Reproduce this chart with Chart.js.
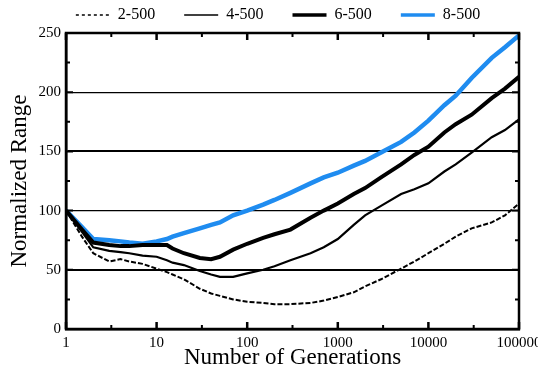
<!DOCTYPE html>
<html>
<head>
<meta charset="utf-8">
<script src="https://cdn.jsdelivr.net/npm/chart.js@4.4.1/dist/chart.umd.min.js"></script>
<style>
html,body{margin:0;padding:0;background:#fff;}
#wrap{width:538px;height:380px;}
</style>
</head>
<body>
<div id="wrap"><canvas id="c" width="538" height="380"></canvas></div>
<script>
const generations = [1, 1.5, 2, 3, 4, 5, 7, 10, 13, 15, 20, 30, 40, 50, 70, 100, 150, 200, 300, 500, 700, 1000, 1500, 2000, 3000, 5000, 7000, 10000, 15000, 20000, 30000, 50000, 70000, 100000];
const range2_500 = [100, 78, 64, 57, 59, 57, 55, 51, 48, 46, 42, 34, 30, 28, 25, 23, 22, 21, 21, 22, 24, 27, 31, 36, 42, 51, 57, 64, 72, 78, 85, 90, 96, 106];
const range4_500 = [100, 82, 69, 66, 65, 64, 62, 61, 58, 56, 54, 49, 46, 44, 44, 47, 50, 53, 58, 64, 69, 76, 88, 96, 104, 114, 118, 123, 133, 139, 149, 162, 168, 177];
const range6_500 = [100, 84, 73, 71, 70, 70, 71, 71, 71, 68, 64, 60, 59, 61, 67, 72, 77, 80, 84, 94, 100, 106, 114, 119, 128, 139, 147, 154, 166, 173, 181, 195, 203, 213];
const range8_500 = [100, 86, 76, 75, 74, 73, 72, 74, 76, 78, 81, 85, 88, 90, 96, 100, 105, 109, 115, 123, 128, 132, 138, 142, 149, 158, 166, 176, 189, 197, 212, 229, 238, 248];
const seriesLabels = ['2-500', '4-500', '6-500', '8-500'];
const xTickValues = [1, 3.1623, 10, 31.623, 100, 316.23, 1000, 3162.3, 10000, 31623, 100000];
const yTickStep = 25;

const SERIF = '"Liberation Serif", "Times New Roman", serif';
const BLUE = '#1f8cf0';
const legendWidths = [1.5, 1.5, 3.5, 3.5];

function pts(ys){ return generations.map((g,i)=>({x:g,y:ys[i]})); }

const frameTicks = {
  id:'frameTicks',
  afterDraw(chart){
    const {ctx, chartArea:a, scales:{x,y}} = chart;
    ctx.save();
    ctx.strokeStyle = '#000';
    ctx.lineWidth = 2.5;
    ctx.strokeRect(a.left, a.top, a.right-a.left, a.bottom-a.top);
    ctx.lineWidth = 2;
    for (let v = 0; v <= 250; v += yTickStep) {
      const py = y.getPixelForValue(v);
      const len = (v % 50 === 0) ? 7 : 4;
      ctx.beginPath();
      ctx.moveTo(a.left, py); ctx.lineTo(a.left+len, py);
      ctx.moveTo(a.right, py); ctx.lineTo(a.right-len, py);
      ctx.stroke();
    }
    xTickValues.forEach(v=>{
      const px = x.getPixelForValue(v);
      const major = Math.abs(Math.log10(v) - Math.round(Math.log10(v))) < 0.01;
      const len = major ? 7 : 4;
      ctx.lineWidth = major ? 2.5 : 2;
      ctx.beginPath();
      ctx.moveTo(px, a.bottom); ctx.lineTo(px, a.bottom-len);
      ctx.moveTo(px, a.top); ctx.lineTo(px, a.top+len);
      ctx.stroke();
    });
    ctx.restore();
  }
};

new Chart(document.getElementById('c'), {
  type:'line',
  data:{
    datasets:[
      {label:seriesLabels[0], data:pts(range2_500), borderColor:'#000', backgroundColor:'#000', borderWidth:2, borderDash:[5,2], pointRadius:0, tension:0},
      {label:seriesLabels[1], data:pts(range4_500), borderColor:'#000', backgroundColor:'#000', borderWidth:2.2, pointRadius:0, tension:0},
      {label:seriesLabels[2], data:pts(range6_500), borderColor:'#000', backgroundColor:'#000', borderWidth:4, pointRadius:0, tension:0},
      {label:seriesLabels[3], data:pts(range8_500), borderColor:BLUE, backgroundColor:BLUE, borderWidth:4.5, pointRadius:0, tension:0}
    ]
  },
  options:{
    responsive:false,
    animation:false,
    layout:{padding:{left:37,right:19,top:-22,bottom:0}},
    plugins:{
      legend:{
        display:true,
        position:'top',
        labels:{
          usePointStyle:true,
          pointStyle:'line',
          pointStyleWidth:34,
          boxHeight:16,
          padding:29,
          color:'#000',
          font:{family:SERIF,size:16},
          generateLabels(chart){
            const items = Chart.defaults.plugins.legend.labels.generateLabels(chart);
            items.forEach((it,i)=>{
              it.lineDash = i === 0 ? [3,3] : [];
              it.lineWidth = legendWidths[i];
              it.lineCap = 'butt';
            });
            return items;
          }
        }
      },
      tooltip:{enabled:false}
    },
    scales:{
      x:{
        type:'logarithmic',
        min:1, max:100000,
        afterBuildTicks(scale){ scale.ticks = xTickValues.map(v=>({value:v})); },
        afterFit(scale){ scale.height = 51; scale.paddingLeft = 0; scale.paddingRight = 0; },
        grid:{display:false, drawTicks:false},
        border:{display:true, color:'#000', width:2.5},
        ticks:{
          autoSkip:false, maxRotation:0, padding:5,
          color:'#000', font:{family:SERIF,size:15},
          callback(v){ const l = Math.log10(v); return Math.abs(l-Math.round(l))<0.01 ? String(Math.round(v)) : ''; }
        },
        title:{display:true, text:'Number of Generations', color:'#000', font:{family:SERIF,size:23}, padding:{top:0,bottom:8}}
      },
      y:{
        min:0, max:250,
        afterFit(scale){ scale.width = 29; },
        grid:{
          drawTicks:false,
          color(ctx){ const v = ctx.tick && ctx.tick.value; return (v>0 && v<250 && v%50===0) ? '#000' : 'rgba(0,0,0,0)'; },
          lineWidth(ctx){ const v = ctx.tick && ctx.tick.value; return (v===50||v===150) ? 2 : 1.3; }
        },
        border:{display:true, color:'#000', width:2.5},
        ticks:{
          stepSize:yTickStep, autoSkip:false, padding:5,
          color:'#000', font:{family:SERIF,size:15},
          callback(v){ return v%50===0 ? String(v) : ''; }
        },
        title:{display:true, text:'Normalized Range', color:'#000', font:{family:SERIF,size:23}, padding:{top:-31,bottom:0}}
      }
    }
  },
  plugins:[frameTicks]
});
</script>
</body>
</html>
